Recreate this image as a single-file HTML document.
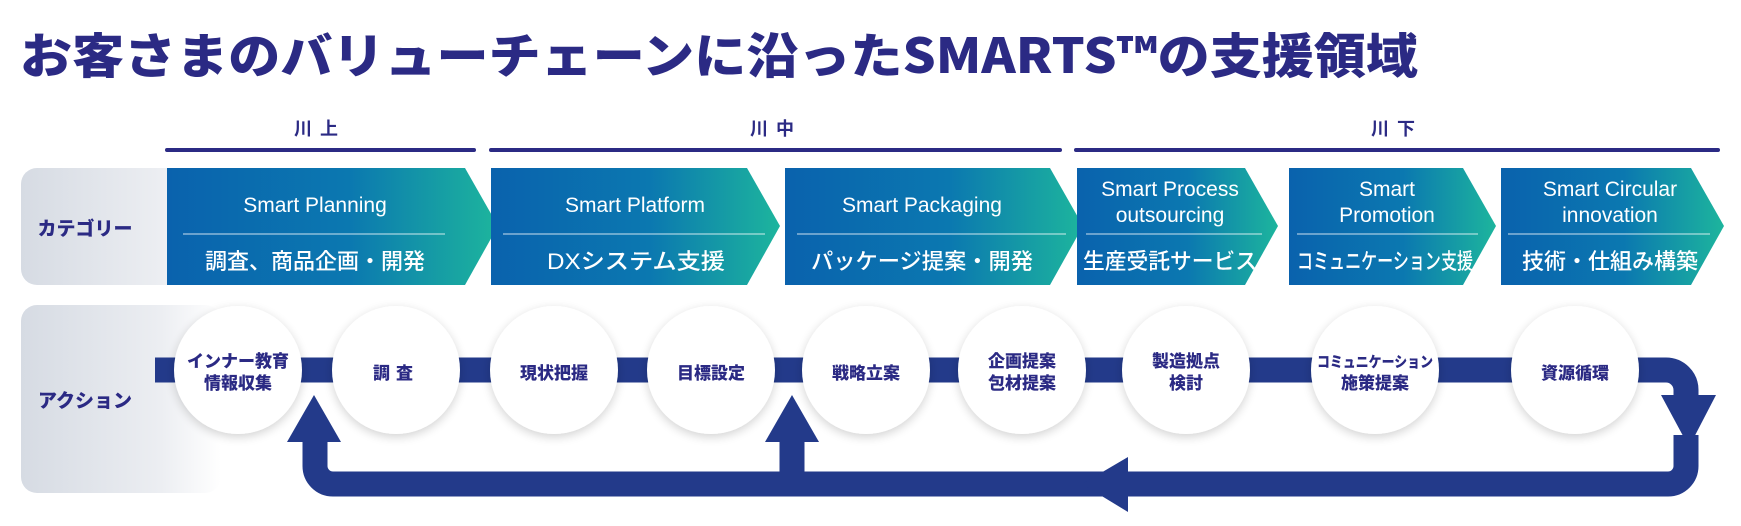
<!DOCTYPE html>
<html><head><meta charset="utf-8"><style>
html,body{margin:0;padding:0;background:#fff;width:1741px;height:526px;overflow:hidden}
svg{display:block}
text{font-family:"Liberation Sans","Noto Sans CJK JP",sans-serif}
.jp{font-family:"Noto Sans CJK JP",sans-serif}
</style></head><body>
<svg width="1741" height="526" viewBox="0 0 1741 526" xmlns="http://www.w3.org/2000/svg">
<defs>
<linearGradient id="chev" x1="0" x2="1" y1="0" y2="0">
<stop offset="0" stop-color="#0a62ad"/><stop offset="0.55" stop-color="#0b78b0"/><stop offset="1" stop-color="#1db59d"/>
</linearGradient>
<linearGradient id="pan" x1="0" x2="1" y1="0" y2="0">
<stop offset="0" stop-color="#d6dbe3"/><stop offset="0.7" stop-color="#eceef2"/><stop offset="1" stop-color="#ffffff"/>
</linearGradient>
<filter id="sh" x="-30%" y="-30%" width="160%" height="160%">
<feGaussianBlur in="SourceAlpha" stdDeviation="5"/><feOffset dy="3"/>
<feComponentTransfer><feFuncA type="linear" slope="0.18"/></feComponentTransfer>
<feMerge><feMergeNode/><feMergeNode in="SourceGraphic"/></feMerge>
</filter>
</defs>

<text x="20" y="73" class="jp" font-size="48" font-weight="900" fill="#2b2a84" textLength="1398" lengthAdjust="spacingAndGlyphs">お客さまのバリューチェーンに沿ったSMARTS™の支援領域</text>

<g font-size="18" font-weight="700" fill="#2b2a84" class="jp" text-anchor="middle">
<text x="320" y="135" letter-spacing="8">川上</text>
<text x="776" y="135" letter-spacing="8">川中</text>
<text x="1397" y="135" letter-spacing="8">川下</text>
</g>
<g stroke="#2b2a84" stroke-width="4" stroke-linecap="round">
<line x1="167" y1="150" x2="474" y2="150"/>
<line x1="491" y1="150" x2="1060" y2="150"/>
<line x1="1076" y1="150" x2="1718" y2="150"/>
</g>

<rect x="21" y="168" width="200" height="117" rx="16" fill="url(#pan)"/>
<rect x="21" y="305" width="200" height="188" rx="16" fill="url(#pan)"/>
<text x="85" y="235" class="jp" font-size="19" font-weight="900" fill="#2b2a84" text-anchor="middle">カテゴリー</text>
<text x="85" y="407" class="jp" font-size="19" font-weight="900" fill="#2b2a84" text-anchor="middle">アクション</text>

<g fill="url(#chev)">
<polygon points="167,168 465,168 498,226 465,285 167,285"/>
<polygon points="491,168 747,168 780,226 747,285 491,285"/>
<polygon points="785,168 1050,168 1083,226 1050,285 785,285"/>
<polygon points="1077,168 1245,168 1278,226 1245,285 1077,285"/>
<polygon points="1289,168 1463,168 1496,226 1463,285 1289,285"/>
<polygon points="1501,168 1691,168 1724,226 1691,285 1501,285"/>
</g>
<g stroke="#ffffff" stroke-opacity="0.8" stroke-width="1">
<line x1="183" y1="234" x2="445" y2="234"/>
<line x1="503" y1="234" x2="765" y2="234"/>
<line x1="797" y1="234" x2="1066" y2="234"/>
<line x1="1086" y1="234" x2="1262" y2="234"/>
<line x1="1297" y1="234" x2="1478" y2="234"/>
<line x1="1508" y1="234" x2="1710" y2="234"/>
</g>
<g fill="#fff" text-anchor="middle" font-size="21">
<text x="315" y="212">Smart Planning</text>
<text x="635" y="212">Smart Platform</text>
<text x="922" y="212">Smart Packaging</text>
<text x="1170" y="196">Smart Process</text>
<text x="1170" y="222">outsourcing</text>
<text x="1387" y="196">Smart</text>
<text x="1387" y="222">Promotion</text>
<text x="1610" y="196">Smart Circular</text>
<text x="1610" y="222">innovation</text>
</g>
<g fill="#fff" text-anchor="middle" font-size="22" font-weight="500" class="jp">
<text x="315" y="269" textLength="220" lengthAdjust="spacingAndGlyphs">調査、商品企画・開発</text>
<text x="636" y="269" textLength="178" lengthAdjust="spacingAndGlyphs">DXシステム支援</text>
<text x="922" y="269" textLength="222" lengthAdjust="spacingAndGlyphs">パッケージ提案・開発</text>
<text x="1170" y="269" textLength="174" lengthAdjust="spacingAndGlyphs">生産受託サービス</text>
<text x="1385" y="269" textLength="176" lengthAdjust="spacingAndGlyphs">コミュニケーション支援</text>
<text x="1610" y="269" textLength="176" lengthAdjust="spacingAndGlyphs">技術・仕組み構築</text>
</g>

<!-- flow -->
<g fill="none" stroke="#233a8a" stroke-width="25">
<path d="M155,370 H1666 A20,20 0 0 1 1686,390 V405"/>
<path d="M1686,435 V466 A18,18 0 0 1 1668,484 H333 A18,18 0 0 1 315,466 V438"/>
<path d="M792,484 V438"/>
</g>
<g fill="#233a8a">
<polygon points="1661,395 1716,395 1689,447"/>
<polygon points="1128,457 1128,512 1082,484"/>
<polygon points="287,442 341,442 314,395"/>
<polygon points="765,442 819,442 792,395"/>
</g>

<g fill="#fff" filter="url(#sh)">
<circle cx="238" cy="370" r="64"/>
<circle cx="396" cy="370" r="64"/>
<circle cx="554" cy="370" r="64"/>
<circle cx="711" cy="370" r="64"/>
<circle cx="866" cy="370" r="64"/>
<circle cx="1022" cy="370" r="64"/>
<circle cx="1186" cy="370" r="64"/>
<circle cx="1375" cy="370" r="64"/>
<circle cx="1575" cy="370" r="64"/>
</g>
<g fill="#2b2a84" font-size="17" font-weight="900" class="jp" text-anchor="middle">
<text x="238" y="367">インナー教育</text>
<text x="238" y="389">情報収集</text>
<text x="396" y="379" letter-spacing="6">調査</text>
<text x="554" y="379">現状把握</text>
<text x="711" y="379">目標設定</text>
<text x="866" y="379">戦略立案</text>
<text x="1022" y="367">企画提案</text>
<text x="1022" y="389">包材提案</text>
<text x="1186" y="367">製造拠点</text>
<text x="1186" y="389">検討</text>
<text x="1375" y="367" font-size="15" textLength="116" lengthAdjust="spacingAndGlyphs">コミュニケーション</text>
<text x="1375" y="389">施策提案</text>
<text x="1575" y="379">資源循環</text>
</g>
</svg>
</body></html>
